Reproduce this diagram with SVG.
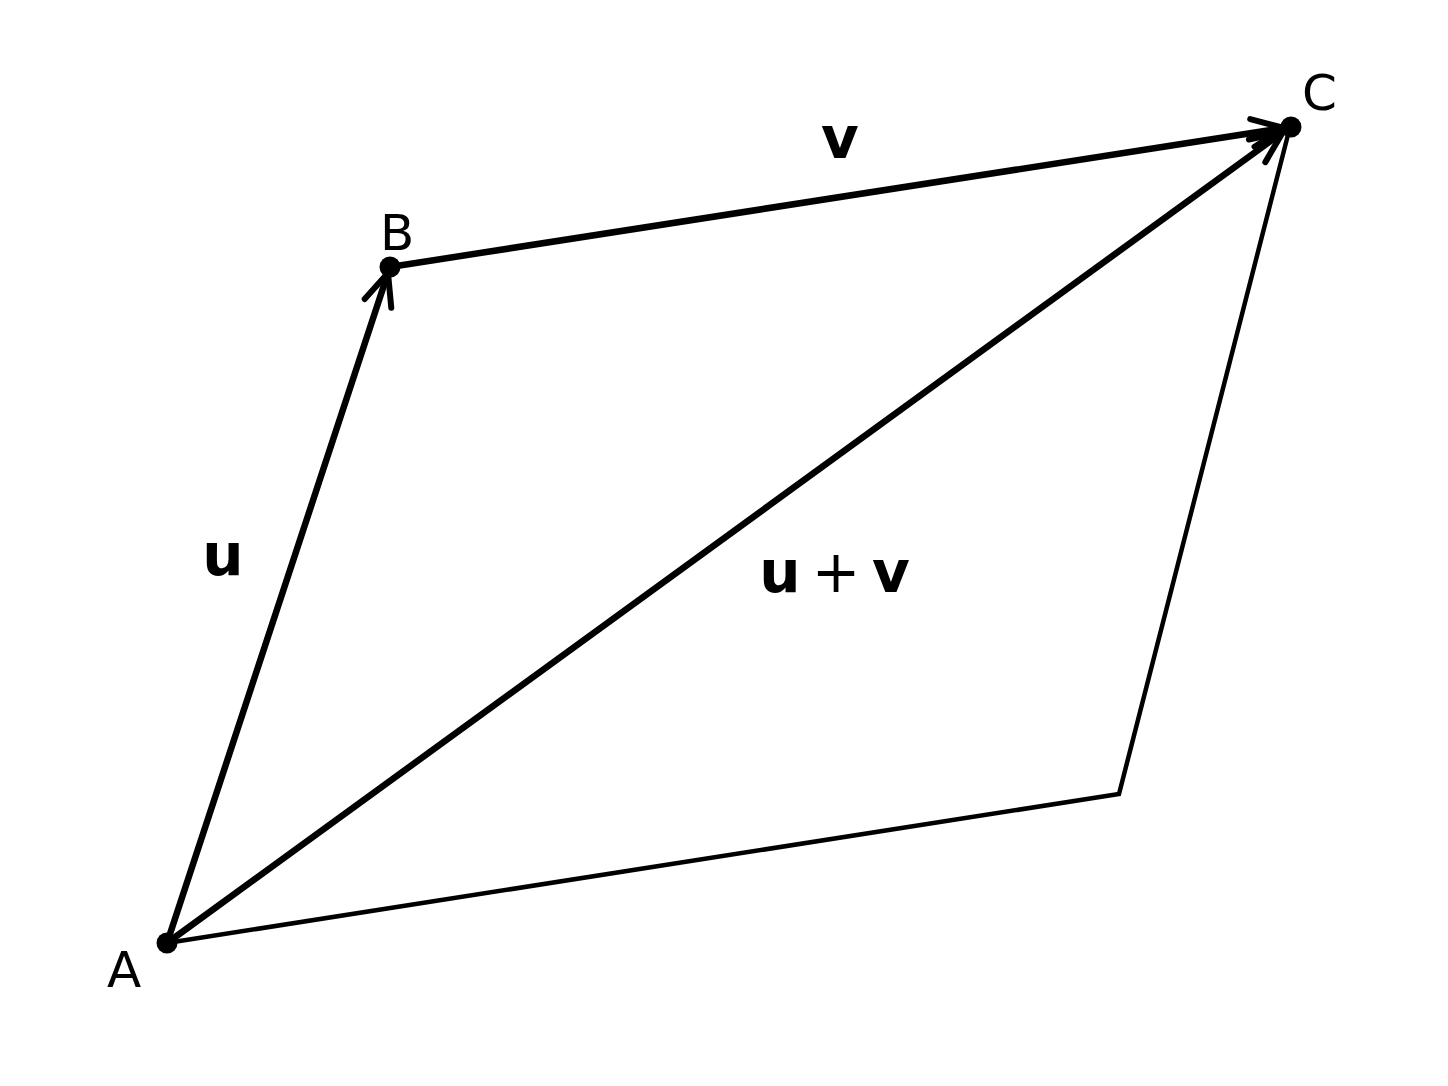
<svg xmlns="http://www.w3.org/2000/svg" width="1448" height="1086" viewBox="0 0 1448 1086">
<style>
.thick{stroke:#000;stroke-width:6.5;fill:none;stroke-linecap:round}
.thin{stroke:#000;stroke-width:4.5;fill:none;stroke-linejoin:miter}
.pt{font-family:"DejaVu Sans",sans-serif;font-size:50px;fill:#000}
.vec{font-family:"DejaVu Sans",sans-serif;font-size:58px;font-weight:bold;fill:#000}
.op{font-family:"DejaVu Sans",sans-serif;font-size:58px;fill:#000}
</style>
<defs>
<marker id="arr" markerUnits="userSpaceOnUse" markerWidth="50" markerHeight="50" refX="0" refY="0" viewBox="-40 -25 50 50" orient="auto">
<path d="M-32,-14 L0,0 L-32,14" fill="none" stroke="#000" stroke-width="6" stroke-linecap="round" stroke-linejoin="round"/>
</marker>
</defs>
<rect width="1448" height="1086" fill="#fff"/>
<g id="connectors">
<polyline class="thin" points="167,943 1119,794 1290,127"/>
<line class="thick" x1="167" y1="943" x2="388" y2="273" marker-end="url(#arr)"/>
<line class="thick" x1="390" y1="267" x2="1284" y2="128" marker-end="url(#arr)"/>
<line class="thick" x1="167" y1="943" x2="1283" y2="132" marker-end="url(#arr)"/>
</g>
<g id="A"><circle cx="167" cy="943" r="10.5"/><text class="pt" x="107" y="987">A</text></g>
<g id="B"><circle cx="390" cy="267" r="10.5"/><text class="pt" x="380" y="250">B</text></g>
<g id="C"><circle cx="1291" cy="127" r="10.5"/><text class="pt" x="1302" y="110">C</text></g>
<g id="labels">
<text class="vec" x="223" y="575" text-anchor="middle">u</text>
<text class="vec" x="840" y="158" text-anchor="middle">v</text>
<text class="vec" x="780" y="592" text-anchor="middle">u</text>
<text class="op" x="836" y="592" text-anchor="middle">+</text>
<text class="vec" x="891" y="592" text-anchor="middle">v</text>
</g>
</svg>
